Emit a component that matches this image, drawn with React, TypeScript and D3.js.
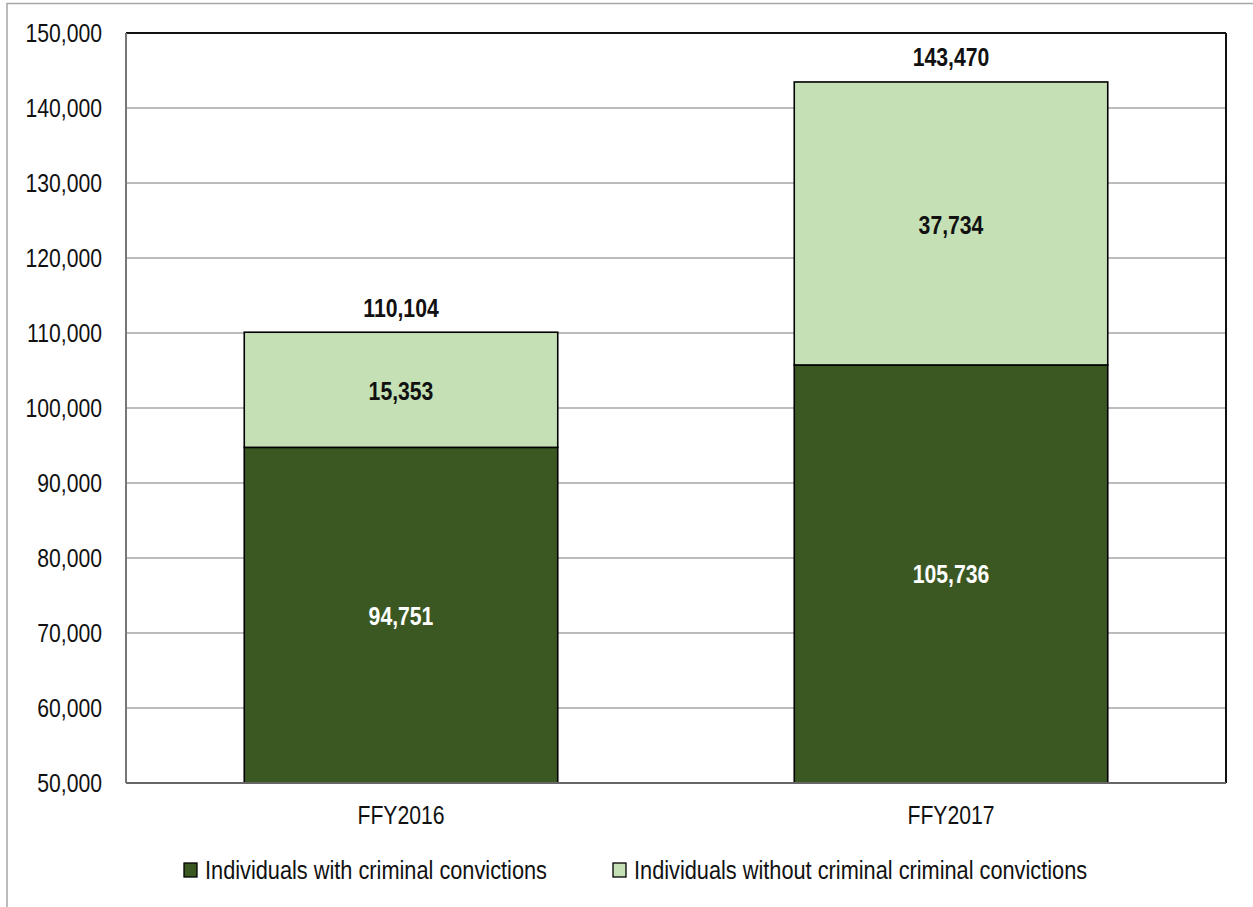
import React from "react";
import * as d3 from "d3";

const categories = ["FFY2016", "FFY2017"];
const withConvictions = [94751, 105736];
const withoutConvictions = [15353, 37734];
const yTicks = [50000, 60000, 70000, 80000, 90000, 100000, 110000, 120000, 130000, 140000, 150000];
const seriesNames = ["Individuals with criminal convictions", "Individuals without criminal criminal convictions"];
const seriesColors = ["#3b5823", "#c5e0b4"];

const W = 1253;
const H = 907;
const plot = { left: 126, right: 1226, top: 33, bottom: 783 };
const FONT = "'Liberation Sans Narrow', 'Arial Narrow', 'Liberation Sans', Arial, sans-serif";

function T(props: {
  x: number;
  y: number;
  anchor?: string;
  bold?: boolean;
  fill?: string;
  sx?: number;
  size?: number;
  children: React.ReactNode;
}) {
  const sx = props.sx ?? 0.815;
  return (
    <text
      transform={`translate(${props.x},${props.y}) scale(${sx},1)`}
      dy="0.36em"
      textAnchor={props.anchor ?? "middle"}
      fontSize={props.size ?? 26}
      fontWeight={props.bold ? "bold" : "normal"}
      fill={props.fill ?? "#111"}
    >
      {props.children}
    </text>
  );
}

export default function App() {
  const x = d3.scaleBand<string>().domain(categories).range([plot.left, plot.right]).paddingInner(0.43).paddingOuter(0.215);
  const y = d3.scaleLinear().domain([50000, 150000]).range([plot.bottom, plot.top]);
  const fmt = d3.format(",");

  return (
    <svg width={W} height={H} style={{ position: "absolute", left: 0, top: 0, background: "#fff" }} fontFamily={FONT}>
      <rect x={7} y={3.5} width={W + 20} height={H + 20} fill="#fff" stroke="#a6a6a6" strokeWidth={1.5} />
      {yTicks.map((t) => (
        <g key={t}>
          {t > 50000 && t < 150000 && (
            <line x1={plot.left} x2={plot.right} y1={y(t)} y2={y(t)} stroke="#a6a6a6" strokeWidth={1.3} />
          )}
          <T x={102} y={y(t)} anchor="end">
            {fmt(t)}
          </T>
        </g>
      ))}
      {categories.map((c, i) => {
        const bx = x(c)!;
        const bw = x.bandwidth();
        const y0 = y(50000);
        const y1 = y(withConvictions[i]);
        const total = withConvictions[i] + withoutConvictions[i];
        const y2 = y(total);
        const cx = bx + bw / 2;
        return (
          <g key={c}>
            <rect x={bx} y={y1} width={bw} height={y0 - y1} fill={seriesColors[0]} stroke="#000" strokeWidth={1.6} />
            <rect x={bx} y={y2} width={bw} height={y1 - y2} fill={seriesColors[1]} stroke="#000" strokeWidth={1.6} />
            <T x={cx} y={(y0 + y1) / 2} bold fill="#fff">
              {fmt(withConvictions[i])}
            </T>
            <T x={cx} y={(y1 + y2) / 2 + 1} bold>
              {fmt(withoutConvictions[i])}
            </T>
            <T x={cx} y={y2 - 25} bold>
              {fmt(total)}
            </T>
            <T x={cx} y={815}>
              {c}
            </T>
          </g>
        );
      })}
      <line x1={plot.left} x2={plot.right} y1={plot.top} y2={plot.top} stroke="#111" strokeWidth={2} />
      <line x1={plot.right} x2={plot.right} y1={plot.top} y2={plot.bottom} stroke="#111" strokeWidth={2} />
      <line x1={plot.left} x2={plot.left} y1={plot.top} y2={plot.bottom} stroke="#777" strokeWidth={2} />
      <line x1={plot.left} x2={plot.right} y1={plot.bottom} y2={plot.bottom} stroke="#666" strokeWidth={2} />
      {seriesNames.map((s, i) => {
        const lx = [184, 613][i];
        return (
          <g key={s}>
            <rect x={lx} y={863} width={13} height={14} fill={seriesColors[i]} stroke="#000" strokeWidth={1.3} />
            <T x={lx + 21} y={870} anchor="start" sx={0.87} size={25}>
              {s}
            </T>
          </g>
        );
      })}
    </svg>
  );
}
